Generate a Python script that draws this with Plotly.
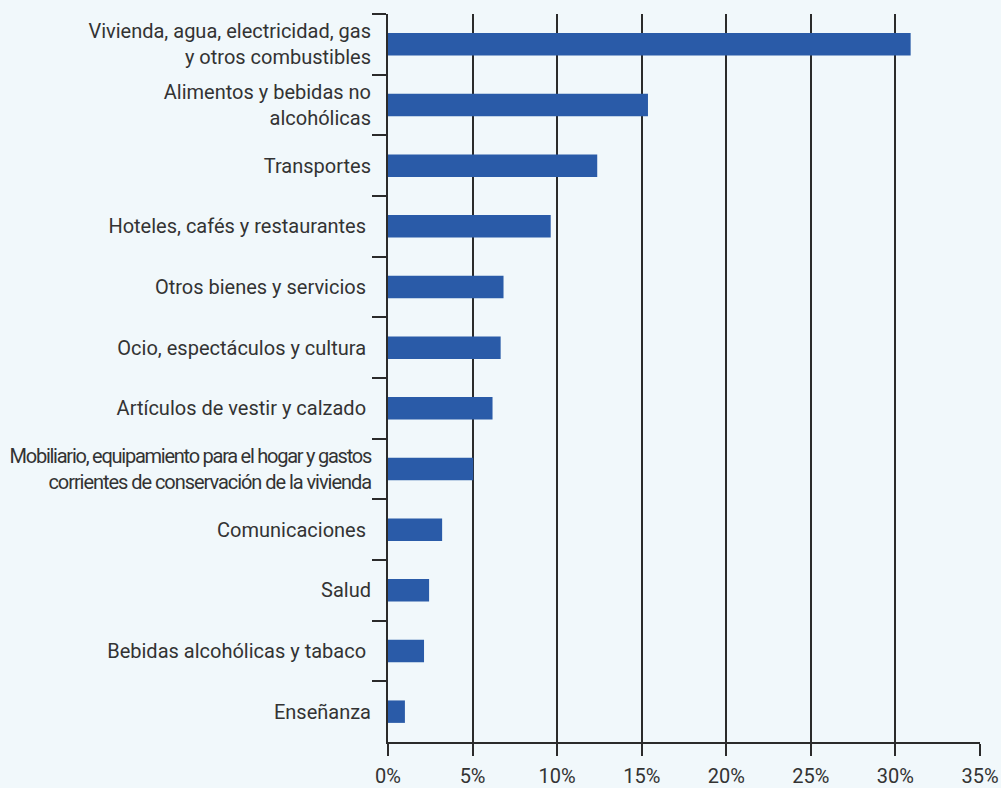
import plotly.graph_objects as go

categories = [
    "Vivienda, agua, electricidad, gas<br>y otros combustibles",
    "Alimentos y bebidas no<br>alcohólicas",
    "Transportes",
    "Hoteles, cafés y restaurantes ",
    "Otros bienes y servicios ",
    "Ocio, espectáculos y cultura ",
    "Artículos de vestir y calzado ",
    "<span style='letter-spacing:-1.25px'>Mobiliario, equipamiento para el hogar y gastos</span>"
    "<br><span style='letter-spacing:-1.05px'>corrientes de conservación de la vivienda</span>",
    "Comunicaciones ",
    "Salud",
    "Bebidas alcohólicas y tabaco ",
    "Enseñanza",
]
values = [30.9, 15.37, 12.37, 9.62, 6.83, 6.66, 6.18, 5.04, 3.2, 2.43, 2.13, 1.0]
x_ticks = [0, 5, 10, 15, 20, 25, 30, 35]
x_ticktext = ["0%", "5%", "10%", "15%", "20%", "25%", "30%", "35%"]

BG = "#f1f8fb"
BAR = "#2a5ba8"
LINE = "#2b2b2b"
FONT = "Roboto, Liberation Sans, sans-serif"

fig = go.Figure(go.Bar(
    x=values, y=categories, orientation="h",
    marker=dict(color=BAR, line=dict(width=0)),
    width=0.37,
))

fig.update_layout(
    width=1001, height=788,
    paper_bgcolor=BG, plot_bgcolor=BG,
    margin=dict(l=388, r=21, t=14, b=46, autoexpand=False),
    showlegend=False,
    font=dict(family=FONT, size=20, color="#333333"),
    xaxis=dict(
        range=[0, 35], tickvals=x_ticks, ticktext=x_ticktext,
        showgrid=True, gridcolor=LINE, gridwidth=1.6,
        showline=True, linecolor=LINE, linewidth=2,
        ticks="outside", ticklen=12, tickwidth=1.6, tickcolor=LINE,
        zeroline=False, fixedrange=True, automargin=False,
        ticklabelstandoff=3,
    ),
    yaxis=dict(
        type="category", categoryorder="array", categoryarray=categories,
        autorange="reversed", automargin=False, fixedrange=True,
        showgrid=False, zeroline=False,
        showline=True, linecolor=LINE, linewidth=2,
        ticks="outside", ticklen=14, tickwidth=1.6, tickcolor=LINE,
        tickson="boundaries",
        ticklabelstandoff=11,
    ),
)

fig.write_html(
    "out.html",
    config={"displayModeBar": False},
    post_script="document.body.style.margin='0';document.body.style.overflow='hidden';",
)
